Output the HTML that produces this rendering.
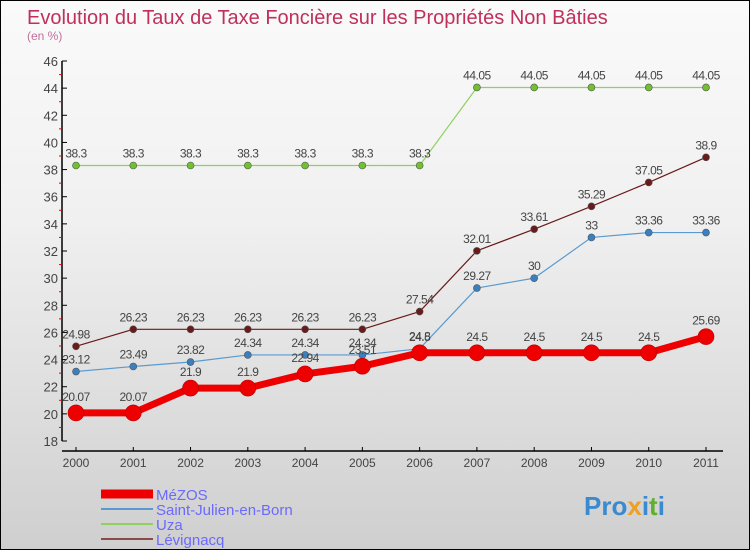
<!DOCTYPE html>
<html><head><meta charset="utf-8"><style>
body{margin:0;}
#c{width:748px;height:548px;border:1px solid #000;background:linear-gradient(#fafafa,#f0f0f0 40%,#cfcfcf);position:relative;font-family:"Liberation Sans",sans-serif;overflow:hidden}
</style></head><body>
<div id="c">
<svg id="s" width="748" height="548" style="position:absolute;left:0;top:0" font-family="Liberation Sans, sans-serif">
<text x="26" y="23" font-size="20" fill="#c0305a">Evolution du Taux de Taxe Foncière sur les Propriétés Non Bâties</text>
<text x="26" y="39" font-size="12" fill="#c0709a">(en %)</text>
<g id="axes"></g><g id="series"></g><g id="legend"></g>
<g><text x="583" y="514" font-size="26" font-weight="bold" fill="#3a8ad0">Pro<tspan fill="#f0a020">x</tspan><tspan fill="#3a8ad0">i</tspan><tspan fill="#60b030">t</tspan><tspan fill="#3a8ad0">i</tspan></text></g>
</svg>
</div>
<script>
const years=["2000","2001","2002","2003","2004","2005","2006","2007","2008","2009","2010","2011"];
const yTicks=[18,20,22,24,26,28,30,32,34,36,38,40,42,44,46];
const mezos=[20.07,20.07,21.9,21.9,22.94,23.51,24.5,24.5,24.5,24.5,24.5,25.69];
const stJulien=[23.12,23.49,23.82,24.34,24.34,24.34,24.8,29.27,30,33,33.36,33.36];
const uza=[38.3,38.3,38.3,38.3,38.3,38.3,38.3,44.05,44.05,44.05,44.05,44.05];
const levignacq=[24.98,26.23,26.23,26.23,26.23,26.23,27.54,32.01,33.61,35.29,37.05,38.9];
const names=["MéZOS","Saint-Julien-en-Born","Uza","Lévignacq"];
const NS="http://www.w3.org/2000/svg";
function X(i){return 75+i*(630/11);}
function Y(v){return 440-(v-18)*(380/28);}
function mk(t,a,p){const e=document.createElementNS(NS,t);for(const k in a)e.setAttribute(k,a[k]);p.appendChild(e);return e;}
const ax=document.getElementById('axes');
let l=mk('line',{x1:61,y1:60,x2:61,y2:440,stroke:'#000','stroke-width':1.5},ax);

l=mk('line',{x1:61,y1:450,x2:722,y2:450,stroke:'#000','stroke-width':1.5},ax);

yTicks.forEach((v,i)=>{
 mk('line',{x1:61,y1:Y(v),x2:66,y2:Y(v),stroke:'#000'},ax);
 if(i<yTicks.length-1)mk('line',{x1:58,y1:Y(v+1),x2:61,y2:Y(v+1),stroke:'#e00'},ax);
 const t=mk('text',{x:57,y:Y(v)+5,'text-anchor':'end','font-size':13,fill:'#444'},ax);t.textContent=v;
 
});
years.forEach((y,i)=>{
 mk('line',{x1:X(i),y1:446,x2:X(i),y2:450,stroke:'#000'},ax);
 const t=mk('text',{x:X(i),y:466,'text-anchor':'middle','font-size':12,fill:'#444'},ax);t.textContent=y;
 
});
const sg=document.getElementById('series');
const defs=[[levignacq,'#6a1a1a','#6a1a1a',1.2,3.5,'levignacq'],[uza,'#90d060','#70c030',1.2,3.5,'uza'],[stJulien,'#5a9ad0','#3a80c0',1.2,3.5,'saint-julien'],[mezos,'#ee0000','#ee0000',7,8,'mezos']];
defs.forEach(([d,c,pc,w,r,n])=>{
 const g=mk('g',{},sg);
 const p=mk('polyline',{points:d.map((v,i)=>X(i)+','+Y(v)).join(' '),fill:'none',stroke:c,'stroke-width':w,'stroke-linejoin':'round'},g);
 
 d.forEach((v,i)=>{
  const ci=mk('circle',{cx:X(i),cy:Y(v),r:r,fill:pc,stroke:n=='mezos'?'#b00':'#555','stroke-width':0.6},g);
  
  const t=mk('text',{x:X(i),y:Y(v)-(n=='mezos'?12:8),'text-anchor':'middle','font-size':12,fill:'#444','letter-spacing':'-0.5'},g);t.textContent=v;
  
 });
});
const lg=document.getElementById('legend');
const lc=[['#ee0000',9],['#5a9ad0',2],['#90d060',2],['#8a4a4a',2]];
names.forEach((nm,i)=>{
 const y=493+i*15;
 const g=mk('g',{},lg);
 mk('line',{x1:100,y1:y,x2:152,y2:y,stroke:lc[i][0],'stroke-width':lc[i][1]},g);
 const t=mk('text',{x:155,y:y+6,'font-size':15,fill:'#6a6aff'},g);t.textContent=nm;
});
</script>
</body></html>
